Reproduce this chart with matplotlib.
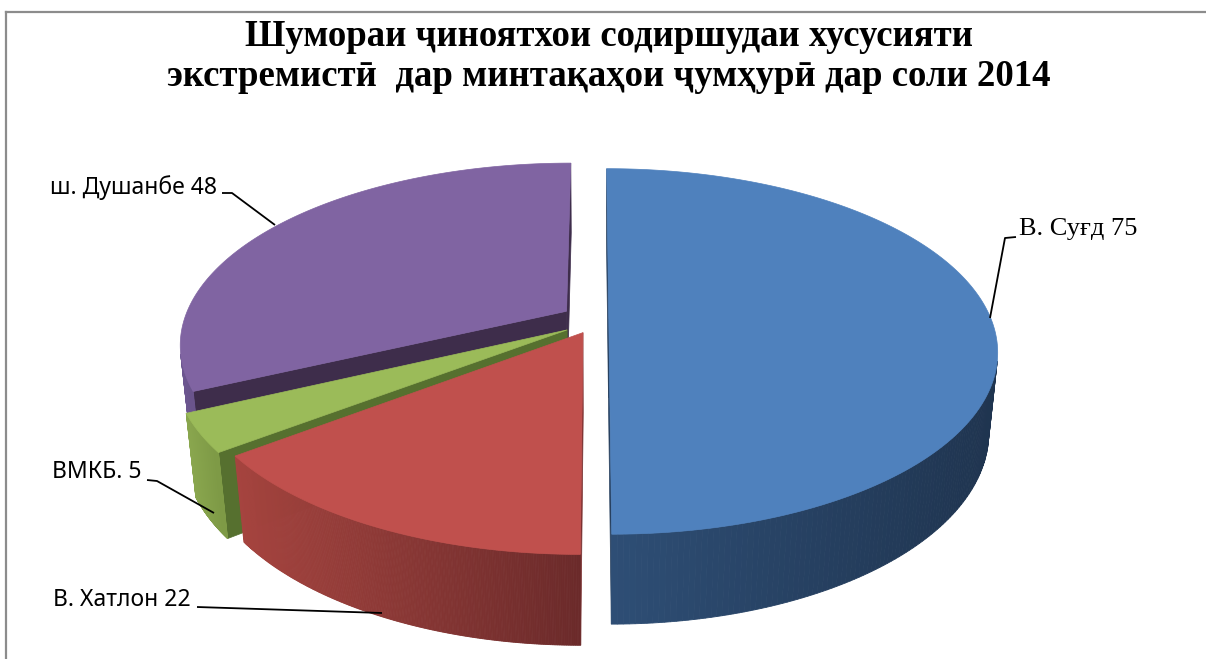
import numpy as np
import matplotlib
matplotlib.use("Agg")
import matplotlib.pyplot as plt
from matplotlib.patches import Polygon
from matplotlib.colors import to_rgb

# ---------------- data ----------------
regions = ["В. Суғд", "В. Хатлон", "ВМКБ.", "ш. Душанбе"]
values = [75, 22, 5, 48]
title_lines = ["Шумораи ҷиноятхои содиршудаи хусусияти",
               "экстремистӣ  дар минтақаҳои ҷумҳурӣ дар соли 2014"]

# ---------------- style ----------------
top_colors = ["#4F81BD", "#C0504D", "#9BBB59", "#8064A2"]
wall_left = ["#2E4E75", "#A6443F", "#8BA84F", "#6E5892"]
wall_right = ["#1F344F", "#6B2A2A", "#7E9A46", "#6A548C"]
radial_colors = ["#27405F", "#7A3030", "#56702F", "#3E2D4B"]
offsets = [(0.036, -0.034), (-0.031, -0.11), (-0.072, -0.095), (-0.075, 0.01)]

PHI = np.deg2rad(27.4)
L = 5.03
F = L
S = 380.0
PX0, PY0 = 595.0, 313.0
DEPTH = 0.238
cphi, sphi = np.cos(PHI), np.sin(PHI)
CAM = np.array([0.0, -L * cphi, L * sphi])


def proj(X, Y, Z):
    X = np.asarray(X, float); Y = np.asarray(Y, float); Z = np.asarray(Z, float)
    ry = Y + L * cphi
    rz = Z - L * sphi
    depth = ry * cphi - rz * sphi
    yc = ry * sphi + rz * cphi
    sx = F * X / depth
    sy = F * yc / depth
    return PX0 + S * sx, PY0 - S * sy


def facing(n, p):
    return np.dot(n, CAM - p) > 0


fig = plt.figure(figsize=(12.06, 6.59), dpi=100)
ax = fig.add_axes([0, 0, 1, 1])
ax.set_xlim(0, 1206)
ax.set_ylim(659, 0)
ax.axis("off")

total = float(sum(values))
bounds = np.concatenate([[0], np.cumsum(values)]) / total * 2 * np.pi

# painter order by depth of slice centroid
order = []
for i in range(len(values)):
    mid = 0.5 * (bounds[i] + bounds[i + 1])
    ox, oy = offsets[i]
    cy = oy + 0.5 * np.cos(mid)
    order.append((-cy, i))
order = [i for _, i in sorted(order)]


def lerp(c1, c2, t):
    a = np.array(to_rgb(c1)); b = np.array(to_rgb(c2))
    return tuple(a + (b - a) * t)


for i in order:
    t1, t2 = bounds[i], bounds[i + 1]
    ox, oy = offsets[i]
    # radial walls
    for th, sgn in ((t1, -1), (t2, 1)):
        n = np.array([sgn * np.cos(th), -sgn * np.sin(th), 0.0])
        p = np.array([ox + 0.5 * np.sin(th), oy + 0.5 * np.cos(th), -DEPTH / 2])
        if facing(n, p):
            Xs = [ox, ox + np.sin(th), ox + np.sin(th), ox]
            Ys = [oy, oy + np.cos(th), oy + np.cos(th), oy]
            Zs = [0, 0, -DEPTH, -DEPTH]
            px, py = proj(Xs, Ys, Zs)
            ax.add_patch(Polygon(np.c_[px, py], closed=True, fc=radial_colors[i],
                                 ec=radial_colors[i], lw=0.5, zorder=2))
    # outer wall strips
    ths = np.linspace(t1, t2, 240)
    vis = []
    for a, b in zip(ths[:-1], ths[1:]):
        m = 0.5 * (a + b)
        n = np.array([np.sin(m), np.cos(m), 0.0])
        p = np.array([ox + np.sin(m), oy + np.cos(m), 0.0])
        if facing(n, p):
            vis.append((a, b))
    if vis:
        angs = np.array([v[0] for v in vis] + [vis[-1][1]])
        xs_all = proj(ox + np.sin(angs), oy + np.cos(angs), np.zeros_like(angs))[0]
        xmin, xmax = xs_all.min(), xs_all.max()
        for a, b in vis:
            Xs = [ox + np.sin(a), ox + np.sin(b), ox + np.sin(b), ox + np.sin(a)]
            Ys = [oy + np.cos(a), oy + np.cos(b), oy + np.cos(b), oy + np.cos(a)]
            Zs = [0, 0, -DEPTH, -DEPTH]
            px, py = proj(Xs, Ys, Zs)
            t = (px.mean() - xmin) / max(xmax - xmin, 1e-6)
            c = lerp(wall_left[i], wall_right[i], np.clip(t, 0, 1))
            ax.add_patch(Polygon(np.c_[px, py], closed=True, fc=c, ec=c, lw=0.6,
                                 zorder=3))

# top faces
for i in range(len(values)):
    t1, t2 = bounds[i], bounds[i + 1]
    ox, oy = offsets[i]
    ths = np.linspace(t1, t2, 300)
    Xs = np.concatenate([[ox], ox + np.sin(ths)])
    Ys = np.concatenate([[oy], oy + np.cos(ths)])
    px, py = proj(Xs, Ys, np.zeros_like(Xs))
    ax.add_patch(Polygon(np.c_[px, py], closed=True, fc=top_colors[i],
                         ec=top_colors[i], lw=0.5, zorder=5))

# ---------------- labels & leader lines ----------------
sans = ["Noto Sans", "DejaVu Sans"]
serif = ["Liberation Serif", "DejaVu Serif"]
lc = dict(color="black", lw=1.3, zorder=6, solid_capstyle="butt")

ax.plot([990, 1005, 1016], [318, 238, 237], **lc)
ax.text(1019, 229, f"{regions[0]} {values[0]}", ha="left", va="center",
        fontsize=19, family=serif, zorder=7)

ax.plot([197, 382], [607, 613], **lc)
ax.text(191, 600, f"{regions[1]} {values[1]}", ha="right", va="center",
        fontsize=16.5, family=sans, zorder=7)

ax.plot([147, 157, 214], [480, 481, 513], **lc)
ax.text(142, 472, f"{regions[2]} {values[2]}", ha="right", va="center",
        fontsize=16.5, family=sans, zorder=7)

ax.plot([222, 232, 275], [193, 193, 225], **lc)
ax.text(217, 188, f"{regions[3]} {values[3]}", ha="right", va="center",
        fontsize=16.5, family=sans, zorder=7)

# title
ax.text(609, 37, title_lines[0], ha="center", va="center", fontsize=26.5,
        fontweight="bold", family=serif)
ax.text(609, 77, title_lines[1], ha="center", va="center", fontsize=26.5,
        fontweight="bold", family=serif)

# chart border (top and left visible)
ax.plot([5.5, 5.5], [659, 11.5], color="#8C8C8C", lw=1.6, zorder=8)
ax.plot([5.5, 1206], [11.5, 11.5], color="#8C8C8C", lw=1.6, zorder=8)

fig.savefig("out.png", dpi=100)
